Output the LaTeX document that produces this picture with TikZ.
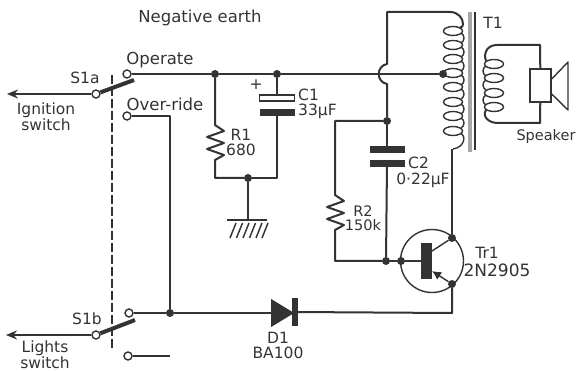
\documentclass[tikz,border=0pt]{standalone}
\usepackage{fontspec}
\setmainfont{DejaVu Sans}
\usetikzlibrary{shapes.geometric, arrows, arrows.meta}
\definecolor{ink}{gray}{0.2}
\tikzstyle{wire} = [line width=2pt, draw=ink, line join=round]
\tikzstyle{thinwire} = [line width=1.4pt, draw=ink]
\tikzstyle{arrow} = [wire,-{Stealth[length=11pt,width=9pt]}]
\tikzstyle{blade} = [line width=4pt, draw=ink]
\tikzstyle{dot} = [circle, fill=ink, inner sep=0pt, minimum size=8pt]
\tikzstyle{term} = [circle, draw=ink, fill=white, line width=1.4pt, inner sep=0pt, minimum size=8pt]
\tikzstyle{label} = [text=ink, inner sep=0pt, font=\fontsize{15.5}{15}\selectfont, align=center]
\tikzstyle{plate} = [rectangle, fill=ink, inner sep=0pt, minimum width=35pt, minimum height=7pt]

\begin{document}
\begin{tikzpicture}[x=1pt,y=-1pt]
    \useasboundingbox (0,0) rectangle (578,371);

    % Nodes
    \node (opterm) [term] at (127,74) {};
    \node (ovterm) [term] at (127,116) {};
    \node (s1a) [term] at (96,94) {};
    \node (s1b) [term] at (96,335) {};
    \node (s1bup) [term] at (129,313) {};
    \node (s1bdown) [term] at (128,356) {};
    \coordinate (ignend) at (7,94);
    \coordinate (litend) at (6,335);
    \coordinate (s1atip) at (134,80);
    \coordinate (s1btip) at (135,320);
    \coordinate (gangtop) at (112,75);
    \coordinate (gangbot) at (112,349);

    \node (j1) [dot] at (215,74) {};
    \node (j2) [dot] at (277,74) {};
    \node (j3) [dot] at (248,178) {};
    \node (j4) [dot] at (387,121) {};
    \node (j5) [dot] at (386,261) {};
    \node (j6) [dot] at (170,313) {};
    \node (tap) [dot] at (443,74) {};

    \node (c1top) [plate, fill=white, draw=ink, line width=1.4pt, minimum height=6pt] at (277,98) {};
    \node (c1bot) [plate] at (277,112.5) {};
    \node (c2top) [plate] at (387,149.5) {};
    \node (c2bot) [plate] at (387,163.5) {};

    \node (base) [dot] at (401,261) {};
    \node (coll) [dot] at (452,238) {};
    \node (emit) [dot] at (452,284) {};
    \node (tr1bar) [rectangle, fill=ink, inner sep=0pt, minimum width=11pt, minimum height=36pt] at (426.5,261) {};
    \node (tr1) [circle, draw=ink, line width=1.4pt, inner sep=0pt, minimum size=63pt] at (432,261) {};

    \node (d1) [isosceles triangle, fill=ink, inner sep=0pt, minimum height=23pt, minimum width=28pt, isosceles triangle stretches, shape border rotate=0] at (279,313) {};
    \node (d1bar) [rectangle, fill=ink, inner sep=0pt, minimum width=6pt, minimum height=28pt] at (295,312) {};

    \node (spk) [rectangle, draw=ink, fill=white, line width=1.4pt, inner sep=0pt, minimum width=21pt, minimum height=33pt] at (540.5,85.5) {};

    % Labels
    \node (title) [label, font=\fontsize{16.5}{19}\selectfont] at (200,18) {Negative earth};
    \node (lopr) [label, font=\fontsize{16.5}{19}\selectfont] at (160,60) {Operate};
    \node (lovr) [label, font=\fontsize{16.5}{19}\selectfont] at (165,104) {Over-ride};
    \node (ls1a) [label] at (85,78) {S1a};
    \node (ls1b) [label] at (87,319) {S1b};
    \node (lign) [label] at (46,117) {Ignition\\switch};
    \node (llit) [label] at (45,355) {Lights\\switch};
    \node (lr1) [label] at (241,142) {R1\\680};
    \node (lc1) [label, align=left, anchor=west] at (298,104) {C1\\33µF};
    \node (lc2) [label, anchor=west] at (408,163) {C2};
    \node (lc2v) [label] at (423,180) {0·22µF};
    \node (lr2) [label, font=\fontsize{14.5}{13.5}\selectfont] at (363,218) {R2\\150k};
    \node (ltr) [label] at (487,253) {Tr1};
    \node (ltrv) [label, font=\fontsize{17}{20}\selectfont] at (497,270) {2N2905};
    \node (ld1) [label] at (278,345) {D1\\BA100};
    \node (lt1) [label] at (493,23) {T1};
    \node (lspk) [label, font=\fontsize{14.5}{17}\selectfont] at (546,137) {Speaker};
    \node (lplus) [label] at (256,85) {+};

    % Switches
    \draw [arrow] (s1a) -- (ignend);
    \draw [arrow] (s1b) -- (litend);
    \draw [blade] (s1a) -- (s1atip);
    \draw [blade] (s1b) -- (s1btip);
    \draw [thinwire, dash pattern=on 9pt off 3pt] (gangtop) -- (gangbot);

    % Wires
    \draw [wire] (opterm) -- (j1);
    \draw [wire] (j1) -- (j2);
    \draw [wire] (j2) -- (tap);
    \draw [wire] (j2) -- (c1top);
    \draw [wire] (c1bot) -- (277,178) -- (j3);
    \draw [wire] (ovterm) -- (170,116) -- (j6);
    \draw [wire] (s1bup) -- (j6);
    \draw [wire] (j6) -- (d1);
    \draw [wire] (s1bdown) -- (170,356);
    \draw [wire] (d1bar) -- (452,313) -- (emit);
    \draw [wire] (j4) -- (c2top);
    \draw [wire] (c2bot) -- (j5);
    \draw [wire] (j5) -- (base);
    \draw [thinwire] (base) -- (tr1bar);
    \draw [thinwire] (432,251) -- (coll);
    \draw [thinwire,-{Latex[length=9pt,width=9pt]}] (emit) -- (432,271);

    % R1 and earth
    \draw [wire] (j1) -- (215,125) -- ++(9,6) -- ++(-17,6) -- ++(17,6) -- ++(-17,6) -- ++(17,6) -- ++(-9,5) -- (215,178) -- (j3);
    \draw [wire] (j3) -- (248,220);
    \draw [wire] (227,220) -- (267,220);
    \foreach \x in {236,242.5,249,255.5,262,268}
        \draw [thinwire] (\x,223) -- (\x-6,238);

    % R2
    \draw [wire] (j4) -- (335,121) -- (335,195) -- ++(9,6) -- ++(-17,6) -- ++(17,6) -- ++(-17,6) -- ++(17,6) -- ++(-9,5) -- (335,261) -- (j5);

    % Primary
    \draw [wire] (j4) -- (387,84) .. controls (376,82) and (376,66) .. (387,64) -- (387,12) -- (450,12) .. controls (458,12) and (463,18) .. (463,24) .. controls (463,27) and (462,27) .. (460,27.5);
    \foreach \y in {31,45,59,73,87,102,116,131} {
        \draw [thinwire] (453,\y) ellipse [x radius=9.5, y radius=4.5];
    }
    \foreach \y in {31,45,59,73,87,102,116} {
        \draw [thinwire] (461,\y+2) .. controls (465,\y+4) and (465,\y+10) .. (461,\y+12);
    }
    \draw [thinwire] (461,133) .. controls (466,136) and (465,147) .. (453,149);
    \draw [wire] (452,149) -- (coll);

    % Core
    \draw [line width=4pt, draw=black!35] (469.5,12) -- (469.5,152);
    \draw [thinwire] (475,12) -- (475,150);

    % Secondary
    \foreach \y in {64,78,93,107} {
        \draw [thinwire] (494,\y) ellipse [x radius=9.5, y radius=4.5];
    }
    \foreach \y in {64,78,93} {
        \draw [thinwire] (486,\y+2) .. controls (482,\y+4) and (482,\y+10) .. (486,\y+12);
    }
    \draw [wire] (486,61) .. controls (483,52) and (488,45) .. (497,45) -- (540,45) -- (spk);
    \draw [wire] (spk) -- (540,123) -- (498,123) .. controls (488,123) and (482,116) .. (486,110);
    \draw [thinwire, line join=round] (spk.east |- 0,79) -- (568,62) -- (568,110) -- (spk.east |- 0,94);
\end{tikzpicture}
\end{document}
